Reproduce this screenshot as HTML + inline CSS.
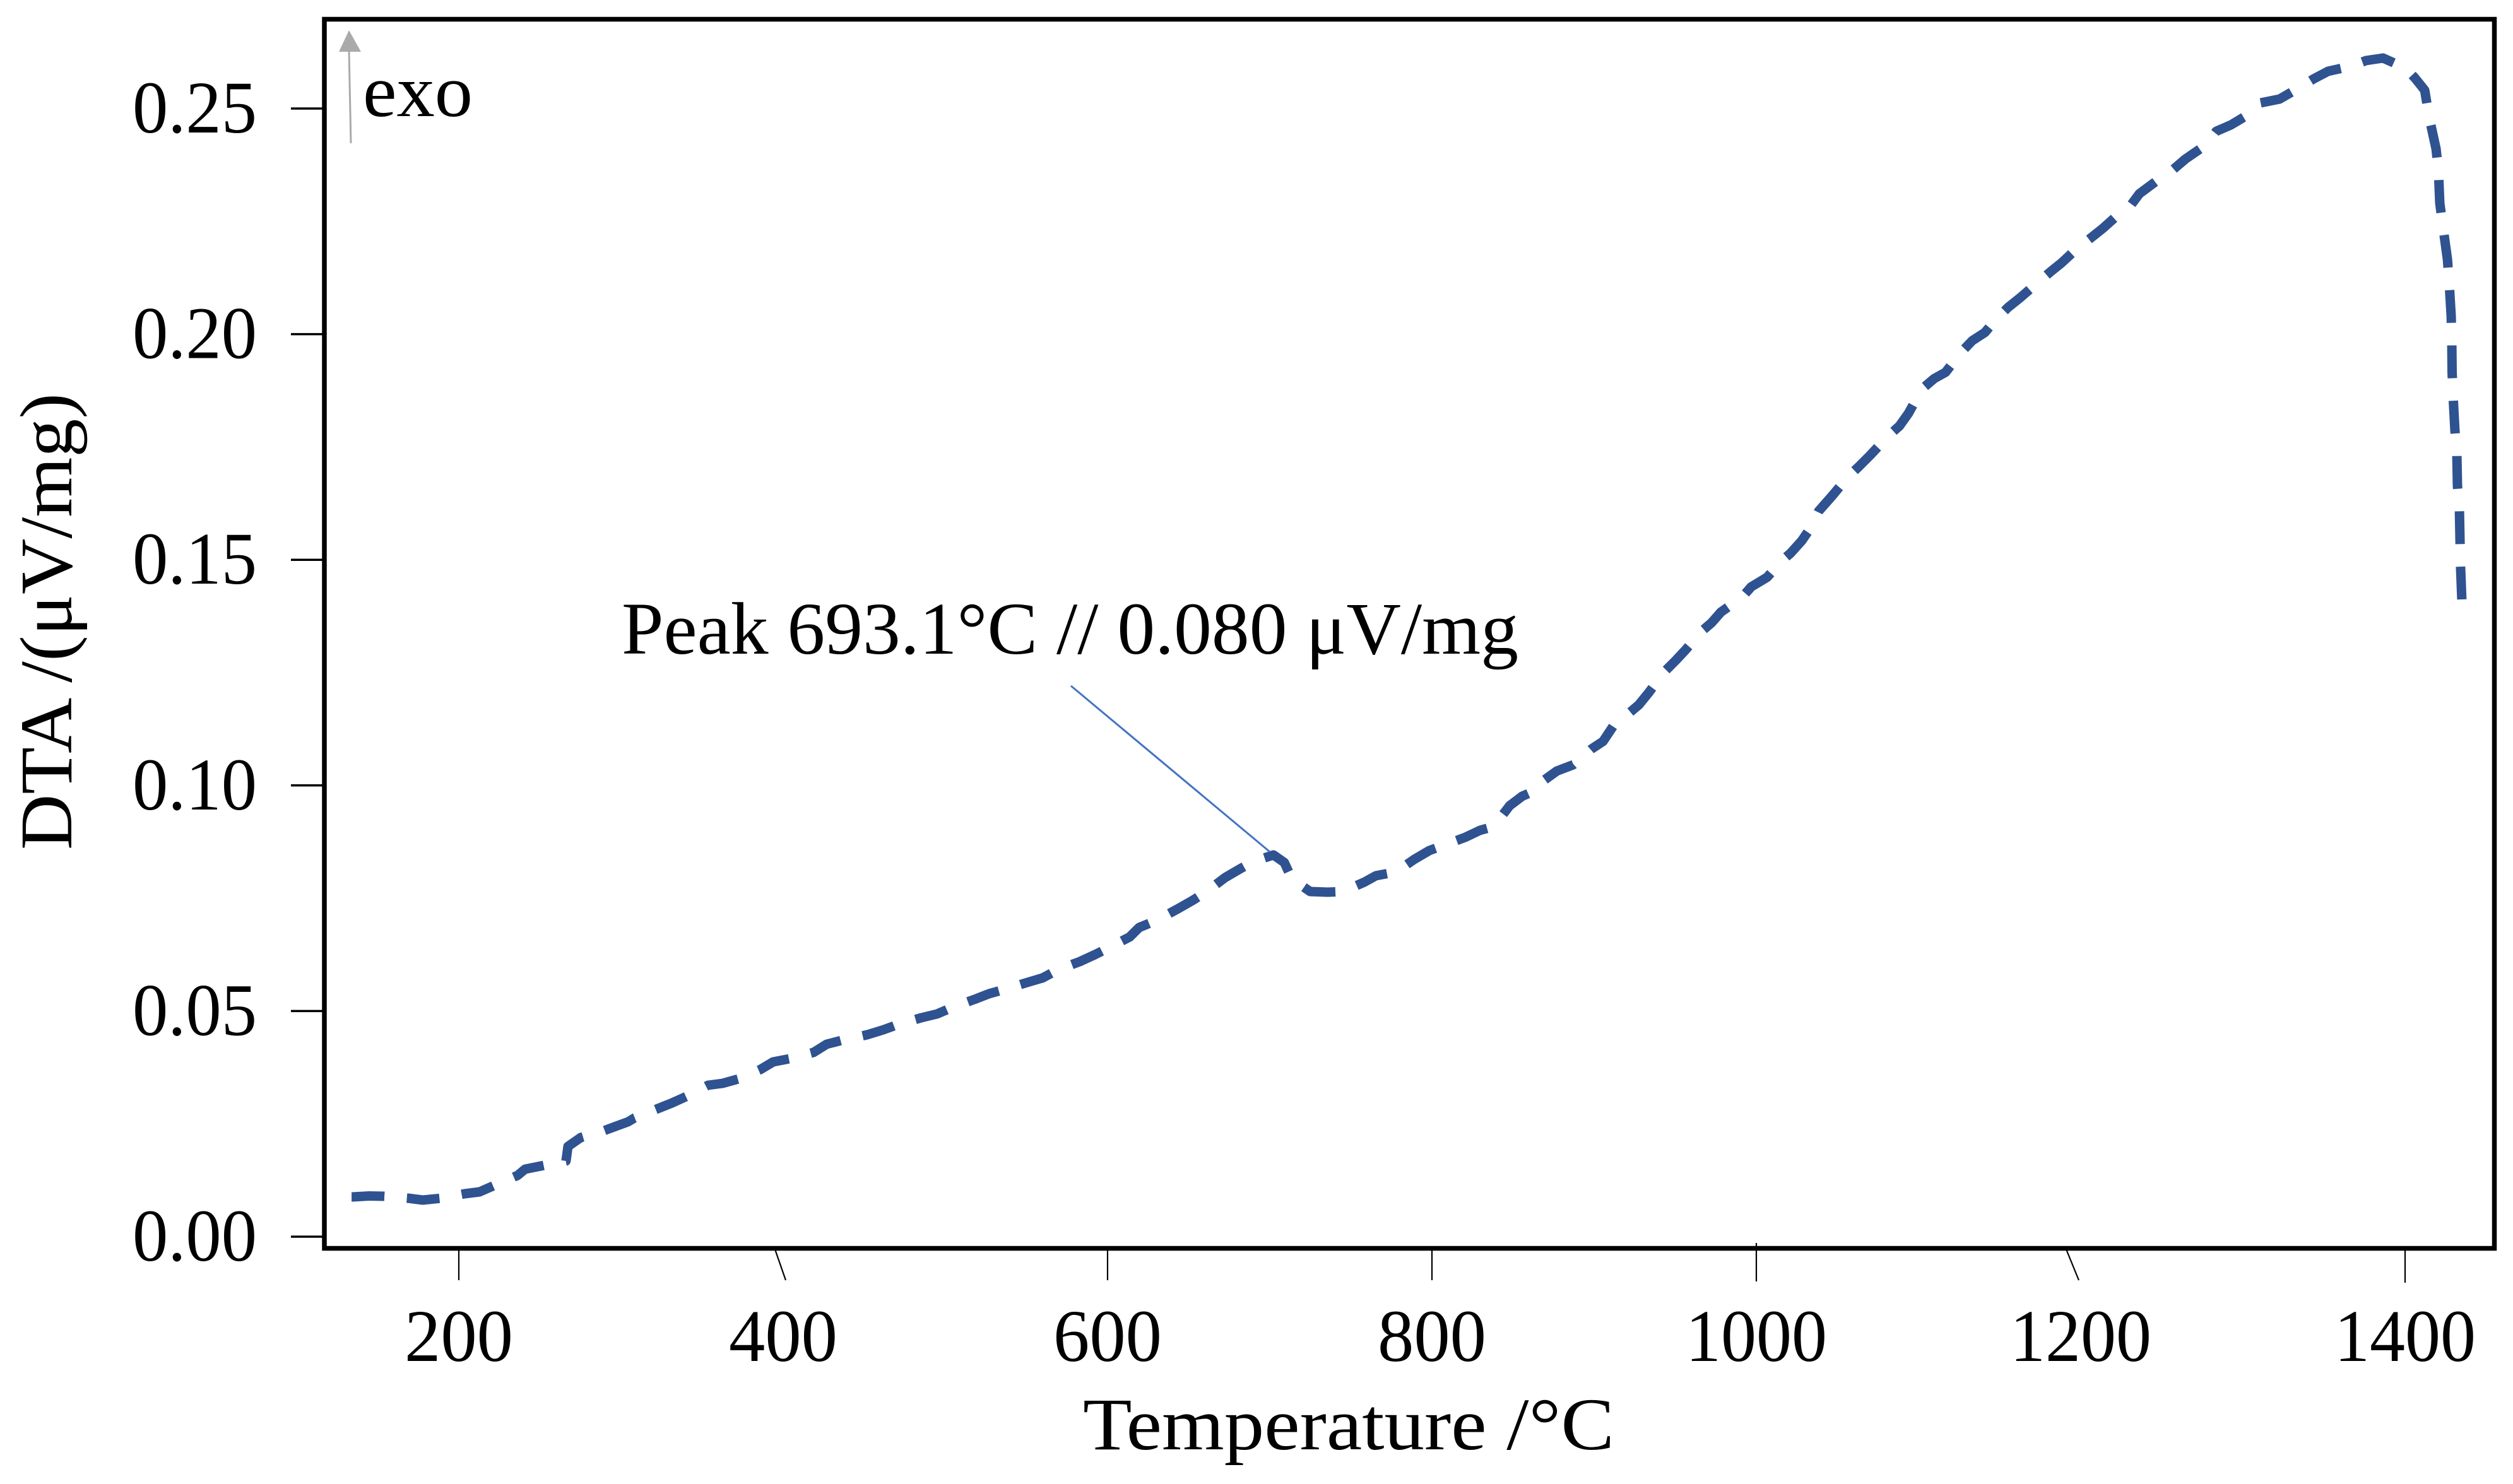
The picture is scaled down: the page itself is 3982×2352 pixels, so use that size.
<!DOCTYPE html>
<html lang="en">
<head>
<meta charset="utf-8">
<title>DTA curve</title>
<style>
html,body{margin:0;padding:0;background:#fff;}
svg{display:block;}
text{font-family:"Liberation Serif",serif;fill:#000;}
</style>
</head>
<body>
<svg id="chart" xmlns="http://www.w3.org/2000/svg" width="3982" height="2352" viewBox="0 0 3982 2352">
  <rect x="0" y="0" width="3982" height="2352" fill="#ffffff"/>
  <g id="y-ticks"></g>
  <g id="x-ticks"></g>
  <path id="curve" fill="none" stroke="#2f5290" stroke-width="15" stroke-dasharray="52 38" stroke-linejoin="round"/>
  <rect x="514" y="30.5" width="3438.5" height="1948" fill="none" stroke="#000" stroke-width="7.5"/>
  <line x1="553" y1="80" x2="556" y2="227" stroke="#aaaaaa" stroke-width="3"/>
  <polygon points="553,48 537,82 572,82" fill="#aaaaaa"/>
  <text x="575" y="184" font-size="118" textLength="174" lengthAdjust="spacingAndGlyphs">exo</text>
  <line x1="1697" y1="1087" x2="2012" y2="1350" stroke="#4472c4" stroke-width="3"/>
  <text x="985" y="1036" font-size="118" textLength="1421" lengthAdjust="spacingAndGlyphs">Peak 693.1°C // 0.080 μV/mg</text>
  <text x="1716" y="2297" font-size="118" textLength="842" lengthAdjust="spacingAndGlyphs">Temperature /°C</text>
  <text transform="translate(113 1347) rotate(-90)" x="0" y="0" font-size="118" textLength="724" lengthAdjust="spacingAndGlyphs">DTA /(μV/mg)</text>
</svg>
<script>
const xTickValues = [200, 400, 600, 800, 1000, 1200, 1400];
const xTickLabels = ['200', '400', '600', '800', '1000', '1200', '1400'];
const yTickValues = [0, 0.05, 0.10, 0.15, 0.20, 0.25];
const yTickLabels = ['0.00', '0.05', '0.10', '0.15', '0.20', '0.25'];

const temperature = [133.9,134.6,144.7,154.1,168.7,177.8,189.1,203.5,212.8,222.6,236.2,240.9,254.5,266.1,267.3,275.1,289.5,304.3,308.2,321.8,331.5,340.1,353.7,362.6,372.4,386,393.8,403.9,418.7,426.8,437.4,451.8,461.9,470.4,485.2,494.9,503.9,517.9,526.9,536.6,550.6,559.9,569.3,582.9,592.2,600.8,613.6,619.5,630,643.6,652.5,661.1,672.4,681.7,690.3,702.3,709,713.6,724.9,735.8,745.1,758.4,765.4,777.8,789.1,798.4,807,820.6,829.6,838.1,847.9,855.6,864.6,868.9,877,887.2,898.4,905.5,911.7,923,927.6,933.9,943.2,950.2,956.4,966.5,972.4,978.2,991.4,996.9,1006.6,1016,1021,1028,1033.9,1038.5,1046.7,1056.8,1063,1070.4,1080.9,1088.3,1093.8,1101.9,1109.7,1116.7,1125.7,1133.1,1140.9,1147.5,1155.3,1162.6,1173.9,1181.7,1188,1198.1,1205.8,1213.6,1224.5,1230.4,1236.2,1248.7,1256.4,1264.6,1277,1283.6,1292.6,1304.3,1310.9,1322.6,1335.4,1343.6,1352.5,1366.5,1375.9,1386.4,1400.4,1406.2,1412.1,1414.8,1419.1,1420.6,1421.4,1423.4,1426.1,1427.2,1428.4,1428.8,1429,1429.6,1430.7,1431.9,1432.3,1433.5,1433.9,1434.2,1435];
const dtaSignal = [0.00881,0.00881,0.00902,0.00895,0.00853,0.00811,0.00853,0.00951,0.00993,0.01147,0.01356,0.01496,0.01594,0.01678,0.01999,0.02195,0.02349,0.02545,0.02629,0.02824,0.02964,0.03104,0.03356,0.03398,0.03496,0.03705,0.03873,0.03943,0.04083,0.04265,0.04362,0.04474,0.04586,0.04698,0.04852,0.04936,0.05075,0.05257,0.05383,0.05481,0.05635,0.05733,0.05914,0.06096,0.0625,0.06404,0.06642,0.06851,0.07005,0.07271,0.07452,0.07648,0.07956,0.08152,0.08319,0.08459,0.08291,0.07928,0.07648,0.07634,0.07648,0.07858,0.07998,0.08082,0.08361,0.08557,0.08669,0.08851,0.09004,0.09088,0.0955,0.0976,0.09899,0.10109,0.10319,0.10459,0.10808,0.10976,0.11312,0.11647,0.11787,0.12067,0.12514,0.12766,0.13003,0.13423,0.13605,0.13842,0.14178,0.14402,0.14611,0.14989,0.15143,0.15422,0.1573,0.16079,0.16415,0.16849,0.17058,0.17324,0.17729,0.17967,0.18247,0.18778,0.19016,0.19155,0.19575,0.19855,0.20036,0.20316,0.20596,0.20805,0.21155,0.21393,0.21575,0.2191,0.2212,0.22343,0.22693,0.22833,0.23112,0.23448,0.2363,0.23882,0.24189,0.24497,0.24636,0.24888,0.25126,0.2521,0.25476,0.25657,0.25825,0.25937,0.26063,0.26119,0.25895,0.25671,0.25406,0.24818,0.24105,0.23616,0.22903,0.22371,0.21659,0.21141,0.20414,0.19869,0.19155,0.18624,0.17883,0.17352,0.16639,0.16093,0.15381,0.14849,0.14122];

function xScale(t) { return 727 + (t - 200) * 2.57; }
function yScale(v) { return 1960 - v * 7152; }

const SVG_NS = 'http://www.w3.org/2000/svg';

function makeLine(x1, y1, x2, y2, w) {
  const l = document.createElementNS(SVG_NS, 'line');
  l.setAttribute('x1', x1);
  l.setAttribute('y1', y1);
  l.setAttribute('x2', x2);
  l.setAttribute('y2', y2);
  l.setAttribute('stroke', '#000');
  l.setAttribute('stroke-width', w);
  return l;
}

function makeText(str, x, y) {
  const t = document.createElementNS(SVG_NS, 'text');
  t.setAttribute('x', x);
  t.setAttribute('y', y);
  t.setAttribute('font-size', '118');
  t.setAttribute('lengthAdjust', 'spacingAndGlyphs');
  t.textContent = str;
  return t;
}

const yGroup = document.getElementById('y-ticks');
yTickValues.forEach(function (v, i) {
  const y = yScale(v);
  const tick = makeLine(461, y, 511, y, 3.5);
  
  
  yGroup.appendChild(tick);
  const label = makeText(yTickLabels[i], 210, y + 38);
  label.setAttribute('textLength', '197');
  
  
  yGroup.appendChild(label);
});

/* hand-drawn tick quirks of the source figure, as offsets from the regular tick */
const tickLeanTop = { 400: -13, 1200: -23 };
const tickLeanBottom = { 400: 4, 1200: -3 };
const tickTopY = { 1000: 1970 };
const tickBottomY = { 1000: 2031, 1400: 2033 };

const xGroup = document.getElementById('x-ticks');
xTickValues.forEach(function (t, i) {
  const x = xScale(t);
  const top = tickTopY[t] || 1980;
  const bottom = tickBottomY[t] || 2029;
  const tick = makeLine(x + (tickLeanTop[t] || 0), top, x + (tickLeanBottom[t] || 0), bottom, 2.2);
  
  
  xGroup.appendChild(tick);
  const label = makeText(xTickLabels[i], x, 2157);
  label.setAttribute('text-anchor', 'middle');
  label.setAttribute('textLength', xTickLabels[i].length === 4 ? '224' : '172');
  
  
  xGroup.appendChild(label);
});

const curvePath = temperature.map(function (t, i) {
  return (i === 0 ? 'M' : 'L') + xScale(t).toFixed(1) + ' ' + yScale(dtaSignal[i]).toFixed(1);
}).join(' ');
const curve = document.getElementById('curve');
curve.setAttribute('d', curvePath);

/* the reference curve has 55 dashes, the last one finishing at the line's end */
const dashLength = 52;
const dashCount = 55;
const period = (curve.getTotalLength() - dashLength) / (dashCount - 1);
curve.setAttribute('stroke-dasharray', dashLength + ' ' + (period - dashLength).toFixed(3));
</script>
</body>
</html>
